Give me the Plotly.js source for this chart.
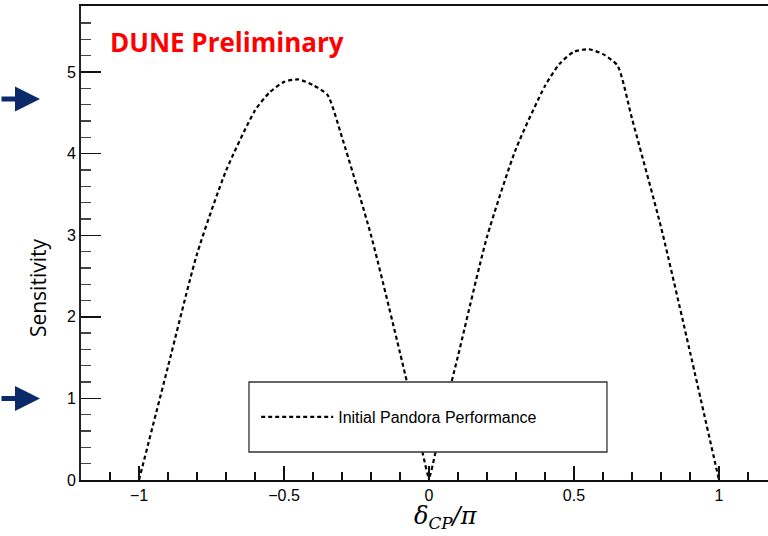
<!DOCTYPE html>
<html>
<head>
<meta charset="utf-8">
<script src="https://cdn.plot.ly/plotly-3.0.1.min.js"></script>
<style>html,body{margin:0;padding:0;background:#fff;}#plot{width:768px;height:536px;}</style>
</head>
<body>
<div id="plot"></div>
<script>
// delta_CP / pi
var deltaCP = [-1.0, -0.9, -0.8, -0.7, -0.6, -0.55, -0.5, -0.45, -0.4, -0.35, -0.3, -0.2, -0.1, -0.05, -0.02, 0.0,
               0.02, 0.05, 0.1, 0.2, 0.3, 0.4, 0.45, 0.5, 0.55, 0.6, 0.65, 0.7, 0.8, 0.9, 1.0];
// Sensitivity
var sensitivity = [0.0, 1.39, 2.77, 3.79, 4.53, 4.75, 4.88, 4.91, 4.84, 4.72, 4.20, 3.00, 1.56, 0.80, 0.30, 0.03,
                   0.30, 0.80, 1.52, 2.98, 4.06, 4.83, 5.10, 5.25, 5.28, 5.22, 5.08, 4.43, 3.10, 1.57, 0.0];
var seriesName = "Initial Pandora Performance";
var arrowLevels = [4.67, 1.0];
var xTickVals = [-1, -0.5, 0, 0.5, 1];
var yTickVals = [0, 1, 2, 3, 4, 5];

var trace = {
  x: deltaCP, y: sensitivity, type: 'scatter', mode: 'lines', name: seriesName,
  line: {color: '#000', width: 2.2, dash: '4px,3px', shape: 'spline', smoothing: 0.6},
  cliponaxis: true
};

var annotations = [{
  xref: 'paper', yref: 'paper', x: 0.040, y: 0.924, xanchor: 'left', yanchor: 'middle',
  text: '<b>DUNE Preliminary</b>', showarrow: false,
  font: {family: 'Open Sans, sans-serif', size: 26, color: '#ff0000'}
}, {
  xref: 'paper', yref: 'paper', x: -0.0626, y: 0.407, xanchor: 'center', yanchor: 'middle',
  text: 'Sensitivity', textangle: -90, showarrow: false,
  font: {family: 'Open Sans, sans-serif', size: 21, color: '#000'}
}, {
  xref: 'paper', yref: 'paper', x: 0.531, y: -0.080, xanchor: 'center', yanchor: 'middle',
  text: '<i>δ<sub>CP</sub>/π</i>', showarrow: false,
  font: {family: 'DejaVu Serif, serif', size: 24, color: '#000'}
}];
arrowLevels.forEach(function (lv) {
  annotations.push({
    xref: 'paper', yref: 'y', x: -0.0597, y: lv, ax: -42, ay: 0, axref: 'pixel', ayref: 'pixel',
    text: '', showarrow: true, arrowhead: 2, arrowsize: 1, arrowwidth: 5, arrowcolor: '#0b2a6a',
    standoff: 0, startstandoff: 0
  });
});

var layout = {
  width: 768, height: 536,
  margin: {l: 81, r: 0, t: 6, b: 56, pad: 0},
  paper_bgcolor: '#fff', plot_bgcolor: '#fff',
  showlegend: true,
  legend: {x: 0.255, y: 0.133, xanchor: 'left', yanchor: 'middle', bgcolor: 'rgba(0,0,0,0)',
           borderwidth: 0, font: {family: 'Liberation Sans, Arial, sans-serif', size: 16, color: '#000'},
           itemwidth: 72},
  xaxis: {
    range: [-1.2, 1.169], showgrid: false, zeroline: false,
    showline: true, linecolor: '#111', linewidth: 2, mirror: true,
    tickmode: 'array', tickvals: xTickVals,
    ticks: 'inside', ticklen: 14, tickwidth: 1.5, tickcolor: '#111',
    minor: {dtick: 0.1, tick0: 0, ticks: 'inside', ticklen: 8, tickwidth: 1.3, tickcolor: '#111'},
    tickfont: {family: 'Liberation Sans, Arial, sans-serif', size: 16, color: '#000'}
  },
  yaxis: {
    range: [0, 5.81], showgrid: false, zeroline: false,
    showline: true, linecolor: '#222', linewidth: 2,
    tickmode: 'array', tickvals: yTickVals,
    ticks: 'inside', ticklen: 20, tickwidth: 1.5, tickcolor: '#111',
    minor: {dtick: 0.2, tick0: 0, ticks: 'inside', ticklen: 10, tickwidth: 1.3, tickcolor: '#444'},
    tickfont: {family: 'Liberation Sans, Arial, sans-serif', size: 16, color: '#000'}
  },
  shapes: [{
    type: 'rect', xref: 'paper', yref: 'paper', x0: 0.2445, x1: 0.7656, y0: 0.0591, y1: 0.2068,
    fillcolor: '#fff', line: {color: '#333', width: 1.3}, layer: 'above'
  }],
  annotations: annotations
};

Plotly.newPlot('plot', [trace], layout, {displayModeBar: false, staticPlot: true});
</script>
</body>
</html>
